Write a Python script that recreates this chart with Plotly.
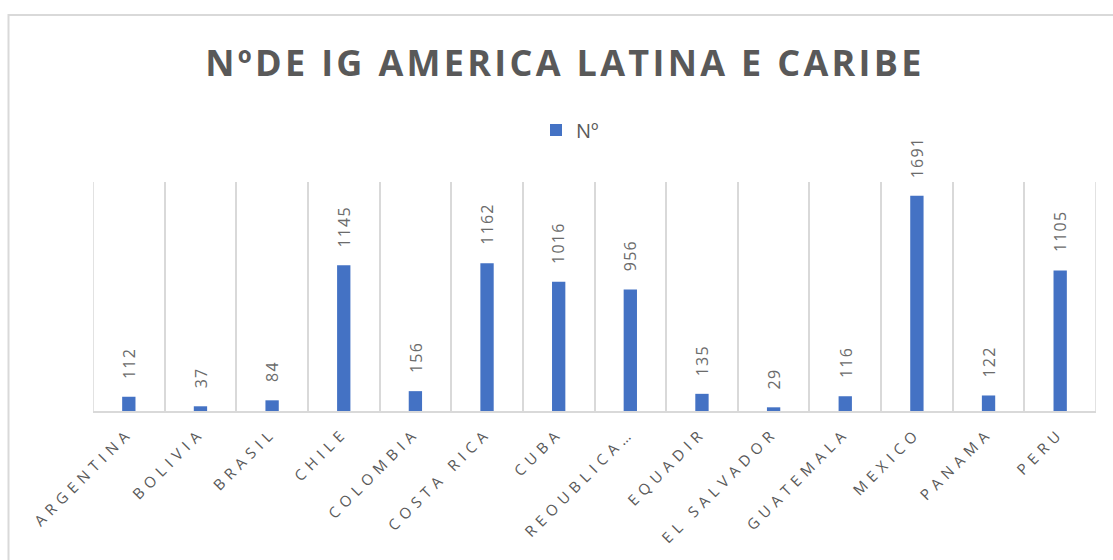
import plotly.graph_objects as go

categories = ["ARGENTINA", "BOLIVIA", "BRASIL", "CHILE", "COLOMBIA", "COSTA RICA", "CUBA",
              "REOUBLICA…", "EQUADIR", "EL SALVADOR", "GUATEMALA", "MEXICO", "PANAMA", "PERU"]
values = [112, 37, 84, 1145, 156, 1162, 1016, 956, 135, 29, 116, 1691, 122, 1105]
series_name = "Nº"
title_text = "NºDE IG AMERICA LATINA E CARIBE"

W, H = 1113, 560
L, R, T, B = 93, 17, 182, 149
pw, ph = W - L - R, H - T - B

def px_x(x):
    return (x - L) / pw

def px_y(y):
    return (H - B - y) / ph

GRAY = "#595959"
LABEL_GRAY = "#6b6b6b"
GRID = "#d9d9d9"
FONT = "Open Sans"

fig = go.Figure()
fig.add_trace(go.Bar(
    x=categories, y=values, name=series_name,
    marker=dict(color="#4472C4", line=dict(width=0)),
    cliponaxis=False,
))

n = len(categories)
edge_lines = [dict(type="line", xref="x", yref="paper", x0=xv, x1=xv, y0=0, y1=1,
                   line=dict(color=GRID, width=1.5), layer="below")
              for xv in (-0.5, n - 0.5)]

labels = [dict(x=c, y=v, xref="x", yref="y",
               text=f'<span style="letter-spacing:1.2px">{v}</span>',
               showarrow=False, textangle=-90, xanchor="center", yanchor="bottom",
               yshift=16, font=dict(family=FONT, size=16, color=LABEL_GRAY))
          for c, v in zip(categories, values)]

fig.update_layout(
    width=W, height=H,
    margin=dict(l=L, r=R, t=T, b=B, pad=0),
    paper_bgcolor="white", plot_bgcolor="white",
    bargap=0.814,
    showlegend=True,
    title=dict(
        text=f'<span style="letter-spacing:3.3px">{title_text}</span>',
        x=px_x(565), xref="paper", xanchor="center",
        y=1 - 63 / H, yref="container", yanchor="middle",
        font=dict(family=FONT, size=36, color=GRAY, weight="bold"),
    ),
    legend=dict(
        orientation="h", x=px_x(536), xanchor="left", y=px_y(130), yanchor="middle",
        font=dict(family=FONT, size=20, color=GRAY),
        bgcolor="rgba(0,0,0,0)",
    ),
    xaxis=dict(
        type="category", tickson="boundaries", showgrid=True, gridcolor=GRID, gridwidth=1.5,
        showline=True, linecolor=GRID, linewidth=2,
        ticks="", tickangle=-45,
        tickvals=categories,
        ticktext=[f'<span style="letter-spacing:5.5px">{c}</span>' for c in categories],
        tickfont=dict(family=FONT, size=15, color=GRAY),
        ticklabelstandoff=5,
        range=[-0.5, n - 0.5],
    ),
    yaxis=dict(range=[0, 1800], showgrid=False, showticklabels=False, zeroline=False, showline=False),
    annotations=labels,
    shapes=[dict(type="rect", xref="paper", yref="paper",
                 x0=px_x(8.5), x1=px_x(1125), y0=px_y(580), y1=px_y(15),
                 line=dict(color=GRID, width=2), fillcolor="rgba(0,0,0,0)", layer="below")] + edge_lines,
)

fig.write_html("out.html", config={"displayModeBar": False},
               post_script="document.body.style.margin='0';document.body.style.overflow='hidden';")
